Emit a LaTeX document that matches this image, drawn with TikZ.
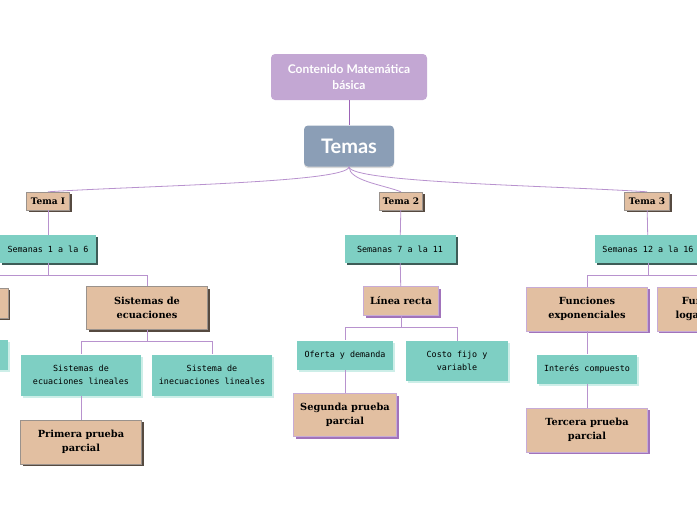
\documentclass[tikz,border=0pt]{standalone}
\usepackage{fontspec}
\setmainfont{Lato}
\newfontfamily\slabfont{DejaVu Serif}
\newfontfamily\handfont{DejaVu Sans Mono}
\usetikzlibrary{shadows}

\definecolor{rootpurple}{HTML}{C3A7D3}
\definecolor{temasblue}{HTML}{8B9EB6}
\definecolor{tan}{HTML}{E2BFA1}
\definecolor{teal}{HTML}{7ECFC3}
\definecolor{darkshade}{HTML}{564A40}
\definecolor{tealshade}{HTML}{3E5C57}
\definecolor{purpleshade}{HTML}{A173BB}
\definecolor{lightshade}{HTML}{CDEEE8}
\definecolor{linkdark}{HTML}{9C63B6}
\definecolor{link}{HTML}{B892CE}

\tikzset{
  box/.style={rectangle, align=center, inner sep=2pt},
  root/.style={box, fill=rootpurple, rounded corners=4pt, text=white,
    font=\bfseries\fontsize{12}{16}\selectfont},
  temas/.style={box, fill=temasblue, rounded corners=4pt, text=white,
    font=\bfseries\fontsize{20}{22}\selectfont,
    drop shadow={shadow xshift=0pt, shadow yshift=-1.5pt, fill=black!15, opacity=1}},
  tanbox/.style={box, fill=tan, draw=#1!60, line width=0.4pt,
    drop shadow={shadow xshift=2pt, shadow yshift=-2pt, fill=#1, opacity=1},
    font=\slabfont\bfseries\fontsize{9.8}{14}\selectfont},
  tanbox/.default=darkshade,
  tema/.style={tanbox, minimum width=43pt, minimum height=18pt,
    font=\slabfont\bfseries\fontsize{9}{10}\selectfont},
  tealbox/.style={box, fill=teal,
    drop shadow={shadow xshift=2pt, shadow yshift=-2pt, fill=#1, opacity=1},
    font=\handfont\fontsize{8.4}{13}\selectfont},
  tealbox/.default=lightshade,
  semana/.style={tealbox=tealshade, minimum height=28pt},
  leaf/.style={tealbox},
  line1/.style={draw=linkdark, line width=1pt},
  line2/.style={draw=link, line width=0.8pt}
}

\begin{document}
\begin{tikzpicture}[x=1pt,y=-1pt]
  \useasboundingbox (0,0) rectangle (697,520);
  \clip (0,0) rectangle (697,520);

  \node[root, minimum width=156pt, minimum height=46pt] (1) at (349,77) {Contenido Matemática\\básica};
  \node[temas, below of=1, node distance=69pt, minimum width=90pt, minimum height=41pt] (2) {Temas};

  \node[tema, below of=2, node distance=55pt, xshift=-301pt] (3) {Tema I};
  \node[tema, below of=2, node distance=55pt, xshift=52pt] (4) {Tema 2};
  \node[tema, below of=2, node distance=55pt, xshift=298pt, minimum width=45pt] (5) {Tema 3};

  \node[semana, below of=3, node distance=48pt, minimum width=96pt] (6) {Semanas 1 a la 6};
  \node[semana, below of=4, node distance=48pt, xshift=-1pt, minimum width=111pt] (7) {Semanas 7 a la 11};
  \node[semana, below of=5, node distance=48pt, xshift=1pt, minimum width=106pt] (8) {Semanas 12 a la 16};

  \node[tanbox, below of=6, node distance=54pt, xshift=-100pt, minimum width=120pt, minimum height=30pt] (9) {};
  \node[leaf, below of=9, node distance=52pt, minimum width=120pt, minimum height=30pt] (10) {};
  \node[tanbox, below of=6, node distance=59pt, xshift=99pt, minimum width=121pt, minimum height=43pt] (11) {Sistemas de\\ecuaciones};
  \node[leaf, below of=11, node distance=67pt, xshift=-66pt, minimum width=120pt, minimum height=41pt] (12) {Sistemas de\\ecuaciones lineales};
  \node[leaf, below of=11, node distance=67pt, xshift=65pt, minimum width=120pt, minimum height=41pt] (13) {Sistema de\\inecuaciones lineales};
  \node[tanbox, below of=12, node distance=67pt, minimum width=121pt, minimum height=44pt] (14) {Primera prueba\\parcial};

  \node[tanbox=purpleshade, below of=7, node distance=52pt, xshift=1pt, minimum width=75pt, minimum height=29pt] (15) {Línea recta};
  \node[leaf, below of=15, node distance=54pt, xshift=-56pt, minimum width=96pt, minimum height=29pt] (16) {Oferta y demanda};
  \node[leaf, below of=15, node distance=60pt, xshift=56pt, minimum width=102pt, minimum height=40pt] (17) {Costo fijo y\\variable};
  \node[tanbox=purpleshade, below of=16, node distance=60pt, minimum width=103pt, minimum height=43pt] (18) {Segunda prueba\\parcial};

  \node[tanbox=purpleshade, below of=8, node distance=60pt, xshift=-61pt, minimum width=121pt, minimum height=44pt] (19) {Funciones\\exponenciales};
  \node[tanbox=purpleshade, below of=8, node distance=60pt, xshift=62pt, minimum width=106pt, minimum height=44pt] (20) {Funciones\\logarítmicas};
  \node[leaf, below of=19, node distance=60pt, minimum width=100pt, minimum height=29pt] (21) {Interés compuesto};
  \node[tanbox=purpleshade, below of=21, node distance=61pt, minimum width=121pt, minimum height=44pt] (22) {Tercera prueba\\parcial};

  \draw[line1] (1) -- (2);
  \draw[line2] (2.south) .. controls +(0,16) and +(90,-6) .. (3.north);
  \draw[line2] (2.south) .. controls +(0,14) and +(-18,-7) .. (4.north);
  \draw[line2] (2.south) .. controls +(0,16) and +(-90,-6) .. (5.north);

  \draw[line2] (3) -- (6);
  \draw[line2] (4) -- (7);
  \draw[line2] (5) -- (8);

  \draw[line2] (6.south) -- ++(0,12) -| (9.north);
  \draw[line2] (6.south) -- ++(0,12) -| (11.north);
  \draw[line2] (9) -- (10);
  \draw[line2] (11.south) -- ++(0,12) -| (12.north);
  \draw[line2] (11.south) -- ++(0,12) -| (13.north);
  \draw[line2] (12) -- (14);

  \draw[line2] (7) -- (15);
  \draw[line2] (15.south) -- ++(0,12) -| (16.north);
  \draw[line2] (15.south) -- ++(0,12) -| (17.north);
  \draw[line2] (16) -- (18);

  \draw[line2] (8.south) -- ++(0,12) -| (19.north);
  \draw[line2] (8.south) -- ++(0,12) -| (20.north);
  \draw[line2] (19) -- (21);
  \draw[line2] (21) -- (22);
\end{tikzpicture}
\end{document}
